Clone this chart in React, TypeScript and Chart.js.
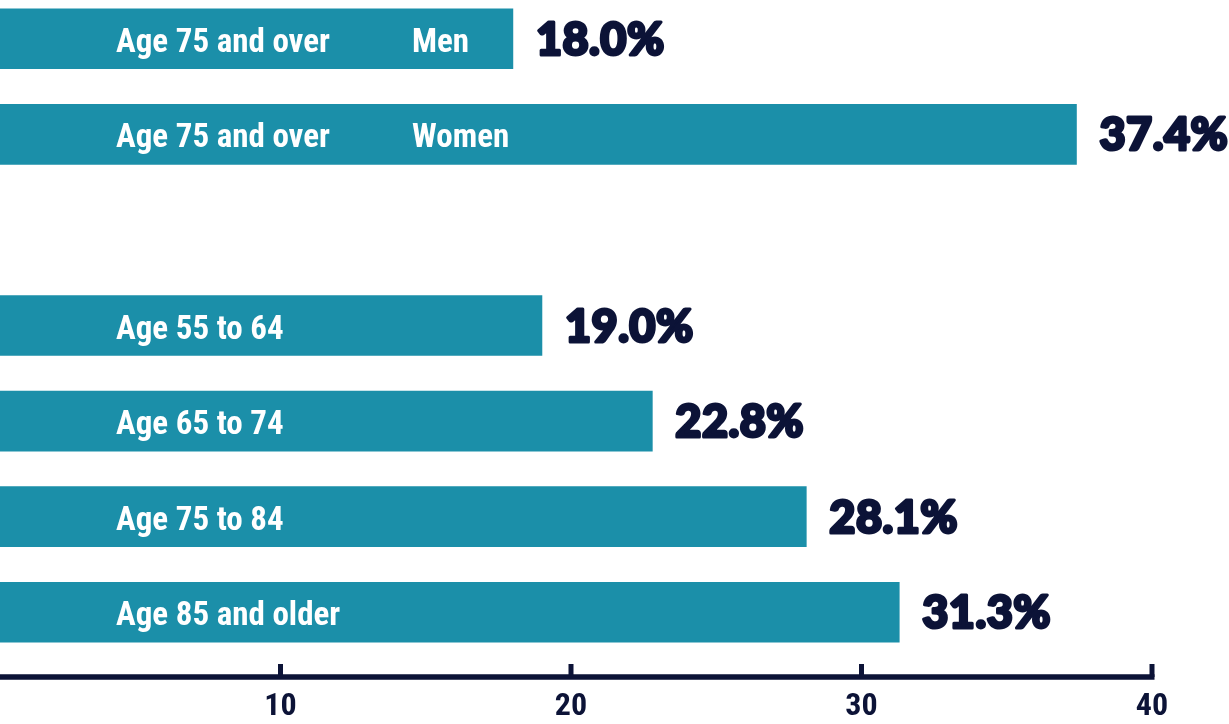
import React, { useEffect, useRef } from 'react';
import { Chart, registerables } from 'chart.js';

Chart.register(...registerables);

// ---- data ----
const categories = ['Age 75 and over', 'Age 75 and over', '', 'Age 55 to 64', 'Age 65 to 74', 'Age 75 to 84', 'Age 85 and older'];
const subLabels = ['Men', 'Women', '', '', '', '', ''];
const values: (number | null)[] = [18.0, 37.4, null, 19.0, 22.8, 28.1, 31.3];
const valueLabels = ['18.0%', '37.4%', '', '19.0%', '22.8%', '28.1%', '31.3%'];
const tickValues = [10, 20, 30, 40];

// ---- styles ----
const TEAL = '#1b8fa9';
const NAVY = '#0c1337';
const COND = '"Roboto Condensed", "Liberation Sans Narrow", "DejaVu Sans Condensed", Roboto, sans-serif';
const HEAVY = 'Lato, "Open Sans", sans-serif';

const labelPlugin = {
  id: 'barLabels',
  afterDatasetsDraw(chart: any) {
    const ctx = chart.ctx as CanvasRenderingContext2D;
    const meta = chart.getDatasetMeta(0);
    const xs = chart.scales.x;
    const area = chart.chartArea;
    ctx.save();
    meta.data.forEach((bar: any, i: number) => {
      if (values[i] == null) return;
      const y = bar.y;
      ctx.fillStyle = '#ffffff';
      ctx.font = `bold 33px ${COND}`;
      ctx.textAlign = 'left';
      ctx.textBaseline = 'alphabetic';
      (ctx as any).letterSpacing = '0px';
      ctx.fillText(categories[i], area.left + 126, y + 13);
      if (subLabels[i]) ctx.fillText(subLabels[i], area.left + 422, y + 13);
      ctx.fillStyle = NAVY;
      ctx.strokeStyle = NAVY;
      ctx.lineWidth = 3;
      ctx.lineJoin = 'round';
      ctx.font = `900 45px ${HEAVY}`;
      (ctx as any).letterSpacing = '0.5px';
      ctx.fillText(valueLabels[i], bar.x + 23, y + 16);
      ctx.strokeText(valueLabels[i], bar.x + 23, y + 16);
    });
    (ctx as any).letterSpacing = '0px';
    // axis line and upward tick marks
    const y0 = area.bottom + 17;
    const xEnd = xs.getPixelForValue(tickValues[tickValues.length - 1]) + 2.5;
    ctx.fillStyle = NAVY;
    ctx.fillRect(area.left, y0 - 2.75, xEnd - area.left, 5.5);
    tickValues.forEach((v) => {
      const px = xs.getPixelForValue(v);
      ctx.fillRect(px - 2.5, y0 - 13, 5, 13);
    });
    ctx.restore();
  },
};

export default function App() {
  const ref = useRef<HTMLCanvasElement | null>(null);
  useEffect(() => {
    if (!ref.current) return;
    const chart = new Chart(ref.current, {
      type: 'bar',
      data: {
        labels: categories,
        datasets: [
          {
            data: values as any,
            backgroundColor: TEAL,
            borderWidth: 0,
            barThickness: 60,
          },
        ],
      },
      options: {
        indexAxis: 'y',
        animation: false,
        responsive: true,
        maintainAspectRatio: false,
        layout: { padding: { left: 0, right: 0, top: 0, bottom: 0 } },
        plugins: { legend: { display: false }, tooltip: { enabled: false } },
        scales: {
          x: {
            type: 'linear',
            min: 0,
            max: 1239 / 29.05,
            afterBuildTicks: (s: any) => {
              s.ticks = tickValues.map((v) => ({ value: v }));
            },
            grid: { display: false, drawTicks: false },
            border: { display: false },
            ticks: {
              color: NAVY,
              padding: 31,
              font: { family: COND, size: 32, weight: 'bold', lineHeight: 1 },
              callback: (v: any) => String(v),
            },
          },
          y: { type: 'category', display: false, offset: true },
        },
      },
      plugins: [labelPlugin],
    });
    return () => chart.destroy();
  }, []);
  return (
    <div style={{ position: 'fixed', left: -10, top: -9, width: 1239, height: 763, background: '#fff' }}>
      <canvas ref={ref} />
    </div>
  );
}
